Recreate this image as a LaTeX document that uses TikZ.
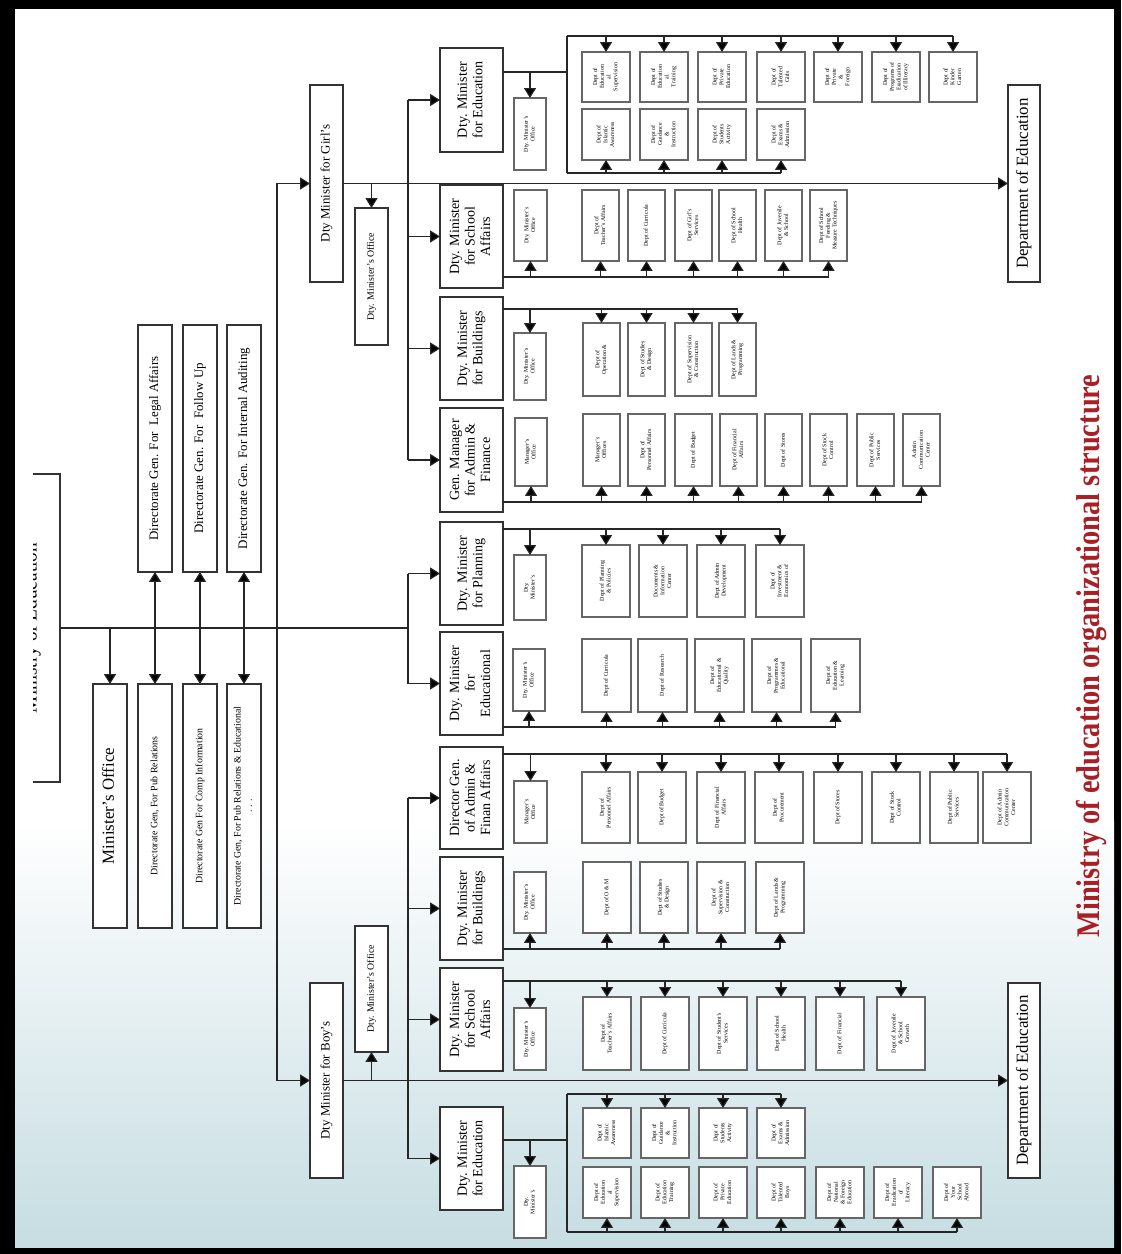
\documentclass[tikz,border=0pt]{standalone}
\usepackage{fontspec}
\setmainfont{Liberation Serif}
\usepackage{graphicx}
\usetikzlibrary{arrows.meta}
\definecolor{titlered}{RGB}{168,32,38}
\definecolor{paleteal}{RGB}{198,221,226}

\tikzset{
  box/.style={draw=black!80, fill=white, line width=0.9pt, inner sep=0pt, outer sep=0pt,
    font=\fontsize{10}{11}\selectfont},
  dept/.style={box, draw=black!60, line width=1pt, font=\fontsize{4.2}{4.8}\selectfont},
  link/.style={draw=black!85, line width=0.8pt},
}
% box given by its corners, text turned to read upwards
\newcommand{\obox}[7][dept]{%
  \node[#1, minimum width={(#5-#3)*0.025cm}, minimum height={(#6-#4)*0.025cm}]
    (#2) at ({(#3+#5)/2},{(#4+#6)/2})
    {\rotatebox{90}{\begin{tabular}{@{}c@{}}#7\end{tabular}}};}

\begin{document}
\begin{tikzpicture}[x=0.025cm, y=-0.025cm, >={Triangle[length=7pt,width=8.5pt,fill=black]}]
    \useasboundingbox (0,0) rectangle (1121,1254);
    \fill[black] (0,0) rectangle (1121,1254);
    \fill[white] (15,9) rectangle (1114,1247);
    \shade[top color=white, bottom color=paleteal] (15,820) rectangle (1114,1247);

    % minister level
    \begin{scope}
        \clip (33,440) rectangle (70,820);
        \obox[box, font=\fontsize{13.7}{15}\selectfont]{moe}{5}{474}{60}{782}{Ministry of Education}
    \end{scope}
    \coordinate (tk) at (277,628);
    \coordinate (hub) at (408,628);

    \obox[box, font=\fontsize{12}{14}\selectfont]{moff}{93}{684}{127}{928}{Minister's Office}
    \obox[box, font=\fontsize{7}{8}\selectfont]{dp1}{138}{684}{172}{928}{Directorate Gen, For Pub Relations}
    \obox[box, font=\fontsize{7}{8}\selectfont]{dp2}{183}{684}{217}{928}{Directorate Gen For Comp Information}
    \obox[box, font=\fontsize{7}{8}\selectfont]{dp3}{227}{684}{261}{928}{Directorate Gen, For Pub Relations \& Educational\\. . .}
    \obox[box, font=\fontsize{9.2}{11}\selectfont]{dl1}{138}{325}{172}{572}{Directorate Gen. For~~Legal Affairs}
    \obox[box, font=\fontsize{9.2}{11}\selectfont]{dl2}{183}{325}{217}{572}{Directorate Gen. For~~Follow Up}
    \obox[box, font=\fontsize{9.2}{11}\selectfont]{dl3}{227}{325}{261}{572}{Directorate Gen. For Internal Auditing}

    \draw[link] (moe.east) -- (hub);
    \draw[link,->] (moe.east -| moff.north) -- (moff.north);
    \foreach \i in {1,2,3}
        \draw[link,<->] (dl\i.south) -- (dp\i.north);

    % deputy ministers
    \obox[box, font=\fontsize{9.2}{11}\selectfont]{girls}{310}{85}{343}{282}{Dty Minister for Girl's}
    \obox[box, font=\fontsize{9.2}{11}\selectfont]{boys}{310}{983}{343}{1178}{Dty Minister for Boy's}
    \obox[box, font=\fontsize{7}{8}\selectfont]{goff}{355}{208}{388}{345}{Dty. Minister's Office}
    \obox[box, font=\fontsize{7}{8}\selectfont]{boff}{355}{926}{388}{1052}{Dty. Minister's Office}
    \obox[box, font=\fontsize{12}{14}\selectfont]{doeg}{1008}{85}{1040}{282}{Department of Education}
    \obox[box, font=\fontsize{12}{14}\selectfont]{doeb}{1008}{983}{1040}{1178}{Department of Education}

    \draw[link] (girls.west -| tk) -- (boys.west -| tk);
    \draw[link,->] (girls.west -| tk) -- (girls.west);
    \draw[link,->] (boys.west -| tk) -- (boys.west);
    \draw[link,->] (girls.east) -- (doeg.west);
    \draw[link,->] (boys.east) -- (doeb.west);
    \draw[link,->] (girls.east -| goff.north) -- (goff.north);
    \draw[link,->] (boys.east -| boff.south) -- (boff.south);

    % sector heads
    \foreach \n/\a/\b/\lbl in {gedu/48/152/Dty. Minister\\for Education,
        gsch/185/288/Dty. Minister\\for School\\Affairs,
        gbld/297/400/Dty. Minister\\for Buildings,
        gadm/408/512/Gen. Manager\\for Admin \&\\Finance,
        plan/522/625/Dty. Minister\\for Planning,
        educ/632/735/Dty. Minister\\for\\Educational,
        badm/747/849/Director Gen.\\of Admin \&\\Finan Affairs,
        bbld/857/960/Dty. Minister\\for Buildings,
        bsch/968/1071/Dty. Minister\\for School\\Affairs,
        bedu/1107/1210/Dty. Minister\\for Education}
        {\obox[box]{\n}{440}{\a}{503}{\b}{\lbl}}

    \draw[link] (gedu.west -| hub) -- (gadm.west -| hub);
    \draw[link] (plan.west -| hub) -- (educ.west -| hub);
    \draw[link] (badm.west -| hub) -- (bedu.west -| hub);
    \foreach \n in {gedu,gsch,gbld,gadm,plan,educ,badm,bbld,bsch,bedu}
        \draw[link,->] (\n.west -| hub) -- (\n.west);

    % girls: education
    \coordinate (geJ) at (567,72);
    \coordinate (geT) at (567,36);
    \coordinate (geB) at (567,173);
    \obox{geo}{514}{98}{546}{170}{Dty. Minister's\\Office}
    \foreach \x/\lbl [count=\i] in {582/Dept of\\Education\\al\\Supervision,
        640/Dept of\\Education\\al\\Training,
        698/Dept of\\Private\\Education,
        757/Dept of\\Talented\\Girls,
        814/Dept of\\Private\\\&\\Foreign,
        872/Dept of\\Programs of\\Eradication\\of Illiteracy,
        929/Dept of\\Kinder\\Garten}
        {\obox{ge\i}{\x}{52}{\x+48}{102}{\lbl}}
    \foreach \x/\lbl [count=\i] in {582/Dept of\\Islamic\\Awareness,
        640/Dept of\\Guidance\\\&\\Instruction,
        698/Dept of\\Students\\Activity,
        757/Dept of\\Exams \&\\Admission}
        {\obox{gf\i}{\x}{109}{\x+48}{160}{\lbl}}
    \draw[link] (gedu.east |- geJ) -- (geJ);
    \draw[link] (geT) -- (geB);
    \draw[link] (geT) -- (geT -| ge7.north);
    \draw[link] (geB) -- (geB -| gf4.south);
    \draw[link,->] (geJ -| geo.north) -- (geo.north);
    \foreach \i in {1,...,7}
        \draw[link,->] (geT -| ge\i.north) -- (ge\i.north);
    \foreach \i in {1,...,4}
        \draw[link,->] (geB -| gf\i.south) -- (gf\i.south);

    % girls: school affairs
    \coordinate (gsB) at (503,277);
    \obox{gso}{514}{190}{547}{261}{Dty. Minister's\\Office}
    \foreach \x/\lbl [count=\i] in {582/Dept of\\Teacher's Affairs,
        628/Dept of Curricula,
        675/Dept of Girl's\\Services,
        719/Dept of School\\Health,
        765/Dept of Juvenile\\\& School,
        810/Dept of School\\Feeding \&\\Measure Techniques}
        {\obox{gs\i}{\x}{190}{\x+37}{261}{\lbl}}
    \draw[link] (gsB) -- (gsB -| gs6.south);
    \foreach \n in {gso,gs1,gs2,gs3,gs4,gs5,gs6}
        \draw[link,->] (gsB -| \n.south) -- (\n.south);

    % girls: buildings
    \coordinate (gbT) at (503,309);
    \obox{gbo}{514}{333}{546}{400}{Dty. Minister's\\Office}
    \foreach \x/\lbl [count=\i] in {583/Dept of\\Operation \&,
        628/Dept of Studies\\\& Design,
        675/Dept of Supervision\\\& Construction,
        719/Dept of Lands \&\\Programming}
        {\obox{gb\i}{\x}{323}{\x+37}{396}{\lbl}}
    \draw[link] (gbT) -- (gbT -| gb4.north);
    \foreach \n in {gbo,gb1,gb2,gb3,gb4}
        \draw[link,->] (gbT -| \n.north) -- (\n.north);

    % girls: admin and finance
    \coordinate (gaB) at (503,502);
    \obox{gao}{515}{418}{547}{486}{Manager's\\Office}
    \foreach \x/\lbl [count=\i] in {583/Manager's\\Offices,
        628/Dept of\\Personnel Affairs,
        675/Dept of Budget,
        720/Dept of Financial\\Affairs,
        765/Dept of Stores,
        810/Dept of Stock\\Control,
        857/Dept of Public\\Services,
        903/Admin\\Communication\\Center}
        {\obox{ga\i}{\x}{414}{\x+37}{486}{\lbl}}
    \draw[link] (gaB) -- (gaB -| ga8.south);
    \foreach \n in {gao,ga1,ga2,ga3,ga4,ga5,ga6,ga7,ga8}
        \draw[link,->] (gaB -| \n.south) -- (\n.south);

    % planning
    \coordinate (plT) at (503,529);
    \obox{plo}{514}{555}{546}{620}{Dty.\\Minister's}
    \foreach \x/\lbl [count=\i] in {582/Dept of Planning\\\& Policies,
        639/Documents \&\\Information\\Center,
        697/Dept of Admin\\Development,
        756/Dept of\\Investment \&\\Economics of}
        {\obox{pl\i}{\x}{545}{\x+48}{617}{\lbl}}
    \draw[link] (plT) -- (plT -| pl4.north);
    \foreach \n in {plo,pl1,pl2,pl3,pl4}
        \draw[link,->] (plT -| \n.north) -- (\n.north);

    % educational affairs
    \coordinate (edB) at (503,727);
    \obox{edo}{513}{649}{545}{711}{Dty. Minister's\\Office}
    \foreach \x/\lbl [count=\i] in {582/Dept of Curricula,
        638/Dept of Research,
        695/Dept of\\Educational \&\\Quality,
        752/Dept of\\Programmes \&\\Educational,
        811/Dept of\\Education \&\\Learning}
        {\obox{ed\i}{\x}{639}{\x+49}{712}{\lbl}}
    \draw[link] (edB) -- (edB -| ed5.south);
    \foreach \n in {edo,ed1,ed2,ed3,ed4,ed5}
        \draw[link,->] (edB -| \n.south) -- (\n.south);

    % boys: admin and finance
    \coordinate (baT) at (503,754);
    \obox{bao}{514}{781}{547}{843}{Manager's\\Office}
    \foreach \x/\lbl [count=\i] in {582/Dept of\\Personnel Affairs,
        638/Dept of Budget,
        697/Dept of Financial\\Affairs,
        755/Dept of\\Procurement,
        814/Dept of Stores,
        872/Dept of Stock\\Control,
        930/Dept of Public\\Services,
        983/Dept of Admin\\Communication\\Center}
        {\obox{ba\i}{\x}{772}{\x+48}{843}{\lbl}}
    \draw[link] (baT) -- (baT -| ba8.north);
    \foreach \n in {bao,ba1,ba2,ba3,ba4,ba5,ba6,ba7,ba8}
        \draw[link,->] (baT -| \n.north) -- (\n.north);

    % boys: buildings
    \coordinate (bbB) at (503,949);
    \obox{bbo}{514}{872}{546}{933}{Dty. Minister's\\Office}
    \foreach \x/\lbl [count=\i] in {583/Dept of O \& M,
        640/Dept of Studies\\\& Design,
        697/Dept of\\Supervision \&\\Construction,
        756/Dept of Lands \&\\Programming}
        {\obox{bb\i}{\x}{862}{\x+48}{933}{\lbl}}
    \draw[link] (bbB) -- (bbB -| bb4.south);
    \foreach \n in {bbo,bb1,bb2,bb3,bb4}
        \draw[link,->] (bbB -| \n.south) -- (\n.south);

    % boys: school affairs
    \coordinate (bsT) at (503,981);
    \obox{bso}{514}{1008}{546}{1070}{Dty. Minister's\\Office}
    \foreach \x/\lbl [count=\i] in {583/Dept of\\Teacher's Affairs,
        641/Dept of Curricula,
        699/Dept of Student's\\Services,
        757/Dept of School\\Health,
        816/Dept of Financial,
        877/Dept of Juvenile\\\& School\\Growth}
        {\obox{bs\i}{\x}{997}{\x+48}{1070}{\lbl}}
    \draw[link] (bsT) -- (bsT -| bs6.north);
    \foreach \n in {bso,bs1,bs2,bs3,bs4,bs5,bs6}
        \draw[link,->] (bsT -| \n.north) -- (\n.north);

    % boys: education
    \coordinate (beJ) at (567,1140);
    \coordinate (beT) at (567,1094);
    \coordinate (beB) at (567,1232);
    \obox{beo}{514}{1166}{546}{1238}{Dty.\\Minister's}
    \foreach \x/\lbl [count=\i] in {583/Dept of\\Islamic\\Awareness,
        641/Dept of\\Guidance\\\&\\Instruction,
        699/Dept of\\Students\\Activity,
        757/Dept of\\Exams \&\\Admission}
        {\obox{be\i}{\x}{1108}{\x+48}{1158}{\lbl}}
    \foreach \x/\lbl [count=\i] in {583/Dept of\\Education\\al\\Supervision,
        641/Dept of\\Education\\Training,
        699/Dept of\\Private\\Education,
        757/Dept of\\Talented\\Boys,
        816/Dept of\\National\\\& Foreign\\Education,
        874/Dept of\\Eradication\\of\\Literacy,
        933/Dept of\\Your\\School\\Abroad}
        {\obox{bf\i}{\x}{1167}{\x+48}{1218}{\lbl}}
    \draw[link] (bedu.east |- beJ) -- (beJ);
    \draw[link] (beT) -- (beB);
    \draw[link] (beT) -- (beT -| be4.north);
    \draw[link] (beB) -- (beB -| bf7.south);
    \draw[link,->] (beJ -| beo.north) -- (beo.north);
    \foreach \i in {1,...,4}
        \draw[link,->] (beT -| be\i.north) -- (be\i.north);
    \foreach \i in {1,...,7}
        \draw[link,->] (beB -| bf\i.south) -- (bf\i.south);

    \node[text=titlered, font=\bfseries\fontsize{23.5}{26}\selectfont, inner sep=0pt] (title) at (1091,656)
        {\rotatebox{90}{\scalebox{0.86}[1]{Ministry of education organizational structure}}};
\end{tikzpicture}
\end{document}
